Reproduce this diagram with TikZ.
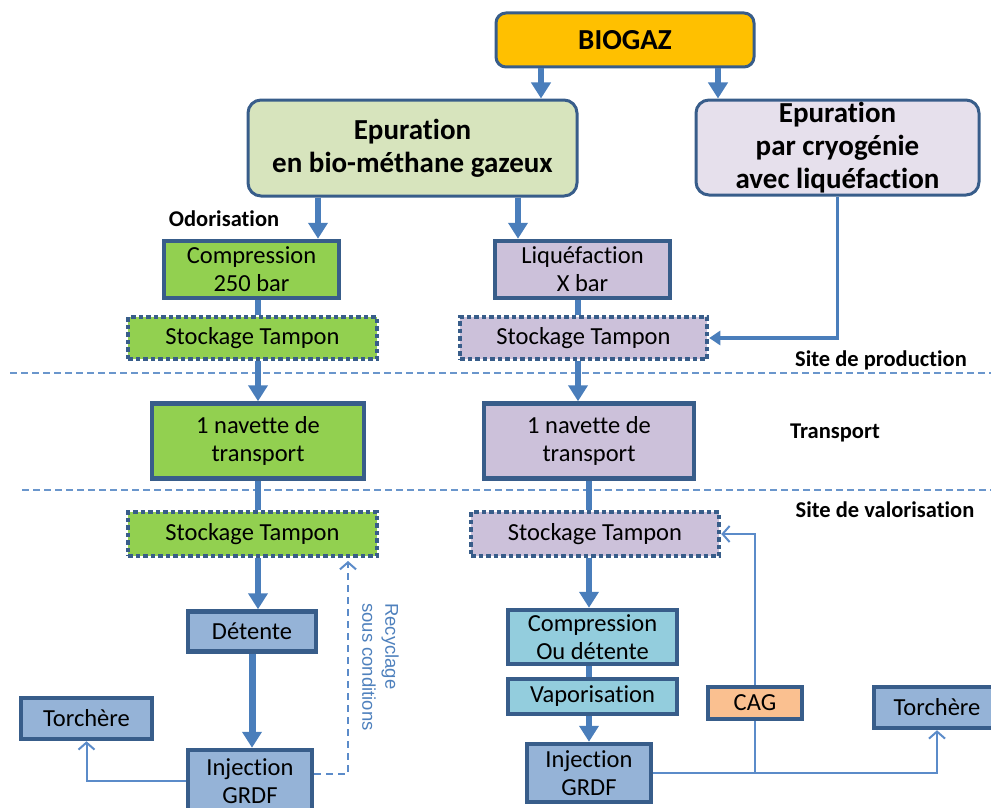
\documentclass[tikz,border=0pt]{standalone}
\usepackage{fontspec}
\setmainfont{Carlito}[Ligatures=NoCommon]
\newfontfamily\arialf{Liberation Sans}
\usetikzlibrary{arrows.meta,calc}
\definecolor{bord}{HTML}{385D8A}
\definecolor{arr}{HTML}{4A7EBB}
\definecolor{thinc}{HTML}{5B8BC9}
\definecolor{sepc}{HTML}{6A96CC}
\definecolor{txtblue}{HTML}{4F81BD}
\definecolor{cyellow}{HTML}{FFC000}
\definecolor{clgreen}{HTML}{D7E4BD}
\definecolor{clav}{HTML}{E6E0EC}
\definecolor{cgreen}{HTML}{92D050}
\definecolor{cpurple}{HTML}{CCC1DA}
\definecolor{cblue}{HTML}{95B3D7}
\definecolor{ccyan}{HTML}{93CDDD}
\definecolor{corange}{HTML}{FAC090}
\begin{document}
\begin{tikzpicture}[x=1pt,y=-1pt,
  box/.style={draw=bord, line width=4.5pt, text=black, align=center, inner sep=0pt,
    font=\fontsize{24.5}{28}\selectfont},
  dotbox/.style={box, line width=4.5pt, dash pattern=on 4.5pt off 3pt},
  rbox/.style={draw=bord, line width=3pt, rounded corners=13pt, text=black, align=center,
    inner sep=0pt, font=\bfseries\fontsize{29}{33}\selectfont},
  big/.style={draw=arr, line width=6pt, -{Triangle[width=19pt,length=16pt]}},
  plainline/.style={draw=arr, line width=6pt},
  cryo/.style={draw=arr, line width=3.5pt, -{Triangle[width=14pt,length=11pt]}},
  thinarr/.style={draw=thinc, line width=2pt, -{Straight Barb[width=16pt,length=7pt]}},
  recyc/.style={draw=thinc, line width=2pt, dash pattern=on 7pt off 5pt, -{Straight Barb[width=16pt,length=7pt]}},
  sep/.style={draw=sepc, line width=1.3pt, dash pattern=on 7pt off 4pt},
  lab/.style={anchor=base, inner sep=0pt, text=black, font=\bfseries\fontsize{22.5}{26}\selectfont}
]
\useasboundingbox (0,0) rectangle (991,808);

% separators
\draw[sep] (10,373) -- (991,373);
\draw[sep] (22,490) -- (991,490);

% top
\node[rbox, rounded corners=10pt, fill=cyellow, minimum width=258pt, minimum height=54pt] (bio) at (625,40) {BIOGAZ};
\node[rbox, fill=clgreen, minimum width=329pt, minimum height=96pt] (epg) at (412.5,148) {Epuration\\en bio-méthane gazeux};
\node[rbox, fill=clav, minimum width=283pt, minimum height=95pt] (epc) at (837.5,147.5) {Epuration\\par cryogénie\\avec liquéfaction};

% production
\node[box, fill=cgreen, minimum width=175pt, minimum height=57pt] (comp) at (251.5,269.5) {Compression\\250 bar};
\node[box, fill=cpurple, minimum width=175pt, minimum height=57pt] (liq) at (582.5,269.5) {Liquéfaction\\X bar};
\node[dotbox, fill=cgreen, minimum width=249pt, minimum height=42pt] (stk1) at (252.5,338) {Stockage Tampon};
\node[dotbox, fill=cpurple, minimum width=247pt, minimum height=42pt] (stk2) at (583.5,338) {Stockage Tampon};

% transport
\node[box, fill=cgreen, minimum width=212pt, minimum height=75pt] (nav1) at (258,441) {1 navette de\\transport};
\node[box, fill=cpurple, minimum width=210pt, minimum height=75pt] (nav2) at (589,441) {1 navette de\\transport};

% valorisation
\node[dotbox, fill=cgreen, minimum width=249pt, minimum height=44pt] (stk3) at (252.5,534) {Stockage Tampon};
\node[dotbox, fill=cpurple, minimum width=248pt, minimum height=44pt] (stk4) at (595,534) {Stockage Tampon};
\node[box, fill=cblue, minimum width=128pt, minimum height=40pt] (det) at (252,631.5) {Détente};
\node[box, fill=cblue, minimum width=124pt, minimum height=62pt] (inj1) at (250,781) {Injection\\GRDF};
\node[box, fill=cblue, minimum width=131pt, minimum height=41pt] (tor1) at (86.5,718.5) {Torchère};
\node[box, fill=ccyan, minimum width=169pt, minimum height=54pt] (cod) at (592.5,637) {Compression\\Ou détente};
\node[box, fill=ccyan, minimum width=169pt, minimum height=35pt] (vap) at (592.5,696.5) {Vaporisation};
\node[box, fill=cblue, minimum width=124pt, minimum height=58pt] (inj2) at (589,773) {Injection\\GRDF};
\node[box, fill=corange, minimum width=94pt, minimum height=32pt] (cag) at (755,703) {CAG};
\node[box, fill=cblue, minimum width=126pt, minimum height=41pt] (tor2) at (937,707.5) {Torchère};

% labels
\node[lab] (odo) at (224,226) {Odorisation};
\node[lab] (lprod) at (881,366.5) {Site de production};
\node[lab] (ltrans) at (835,438) {Transport};
\node[lab] (lval) at (885,517) {Site de valorisation};
\node[rotate=-90, anchor=north west, align=left, inner sep=0pt, text=txtblue,
  font=\arialf\fontsize{18.5}{23}\selectfont] (rec) at (399,603) {Recyclage\\sous conditions};

% coordinates for vertical lines
\coordinate (xa) at (541,0);
\coordinate (xb) at (718,0);
\coordinate (xc) at (318,0);
\coordinate (xd) at (518,0);
\coordinate (xl) at (258,0);
\coordinate (xr) at (578,0);
\coordinate (xr2) at (589,0);
\coordinate (xdet) at (252,0);
\coordinate (rc) at (348,561);

% connectors
\draw[big] (bio.south -| xa) -- (epg.north -| xa);
\draw[big] (bio.south -| xb) -- (epc.north -| xb);
\draw[big] (epg.south -| xc) -- (comp.north -| xc);
\draw[big] (epg.south -| xd) -- (liq.north -| xd);
\draw[plainline] (comp.south -| xl) -- (stk1.north -| xl);
\draw[plainline] (liq.south -| xr) -- (stk2.north -| xr);
\draw[cryo] (epc.south) |- (stk2.east);
\draw[big] (stk1.south -| xl) -- (nav1.north -| xl);
\draw[big] (stk2.south -| xr) -- (nav2.north -| xr);
\draw[plainline] (nav1.south -| xl) -- (stk3.north -| xl);
\draw[plainline] (nav2.south -| xr2) -- (stk4.north -| xr2);
\draw[big] (stk3.south -| xl) -- (det.north -| xl);
\draw[big, line width=7pt] (det.south -| xdet) -- (inj1.north -| xdet);
\draw[big] (stk4.south -| xr2) -- (cod.north -| xr2);
\draw[plainline] (cod.south -| xr2) -- (vap.north -| xr2);
\draw[big] (vap.south -| xr2) -- (inj2.north -| xr2);
\draw[thinarr] (inj1.west) -| (tor1.south);
\draw[recyc] ([yshift=7pt]inj1.east) -| (rc);
\draw[thinarr] (inj2.east) -| (tor2.south);
\draw[draw=thinc, line width=2pt] (inj2.east -| cag.south) -- (cag.south);
\draw[thinarr] (cag.north) |- (stk4.east);
\end{tikzpicture}
\end{document}
